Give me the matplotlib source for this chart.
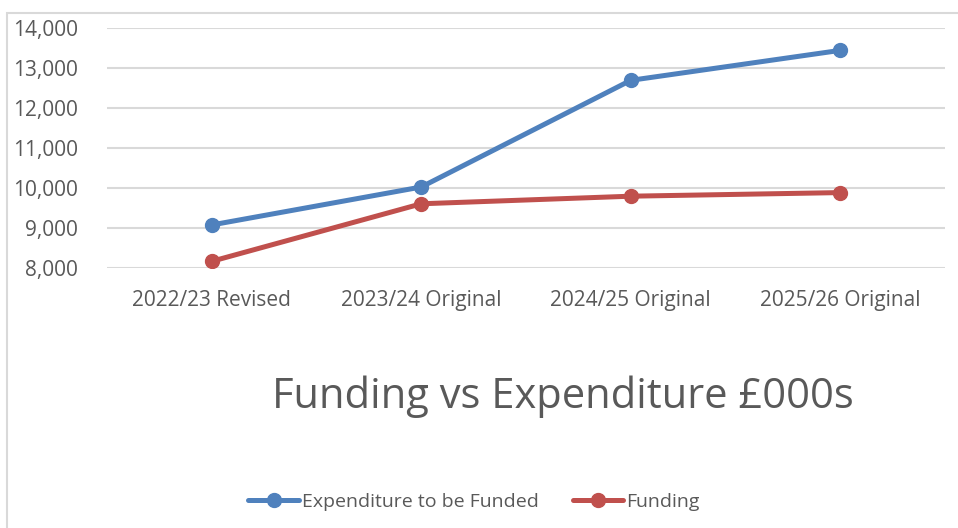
import matplotlib
matplotlib.use('Agg')
import matplotlib.pyplot as plt
from matplotlib.patches import Rectangle
from matplotlib.ticker import FuncFormatter

plt.rcParams['font.family'] = ['Open Sans', 'DejaVu Sans']

years = ['2022/23 Revised', '2023/24 Original', '2024/25 Original', '2025/26 Original']
expenditure = [9070, 10020, 12690, 13440]
funding = [8160, 9600, 9790, 9880]
yticks = [8000, 9000, 10000, 11000, 12000, 13000, 14000]

blue = '#4F81BD'
red = '#C0504D'
grey_txt = '#595959'
grid_col = '#D9D9D9'

fig = plt.figure(figsize=(9.58, 5.28), dpi=100)
ax = fig.add_axes([107/958, 1 - 267.7/528, (945 - 107)/958, (267.7 - 28)/528])

x = range(len(years))
l1, = ax.plot(x, expenditure, color=blue, lw=3.6, marker='o', ms=10,
              solid_capstyle='round', label='Expenditure to be Funded')
l2, = ax.plot(x, funding, color=red, lw=3.6, marker='o', ms=10,
              solid_capstyle='round', label='Funding')

ax.set_xlim(-0.5, 3.5)
ax.set_ylim(8000, 14000)
ax.set_yticks(yticks)
ax.yaxis.set_major_formatter(FuncFormatter(lambda v, p: f'{int(v):,}'))
ax.set_xticks(list(x))
ax.set_xticklabels(years)
ax.tick_params(length=0, labelsize=15, colors=grey_txt)
ax.tick_params(axis='y', pad=21)
ax.tick_params(axis='x', pad=16)
ax.grid(axis='y', color=grid_col, lw=1.5)
ax.set_axisbelow(True)
for s in ax.spines.values():
    s.set_visible(False)

# outer chart border (cropped on right and bottom)
fig.add_artist(Rectangle((7/958, -0.2), 1.2, (528 - 13)/528 + 0.2,
                         transform=fig.transFigure, fill=False,
                         edgecolor=grid_col, lw=1.5))

fig.text(563/958, 1 - 397/528, 'Funding vs Expenditure £000s',
         ha='center', va='center', fontsize=30, color=grey_txt)

fig.legend(handles=[l1, l2], loc='center', bbox_to_anchor=(474/958, 1 - 502/528),
           ncol=2, frameon=False, fontsize=14, handlelength=2.6,
           handletextpad=0.15, columnspacing=1.75, labelcolor=grey_txt)

fig.savefig('out.png', dpi=100)
